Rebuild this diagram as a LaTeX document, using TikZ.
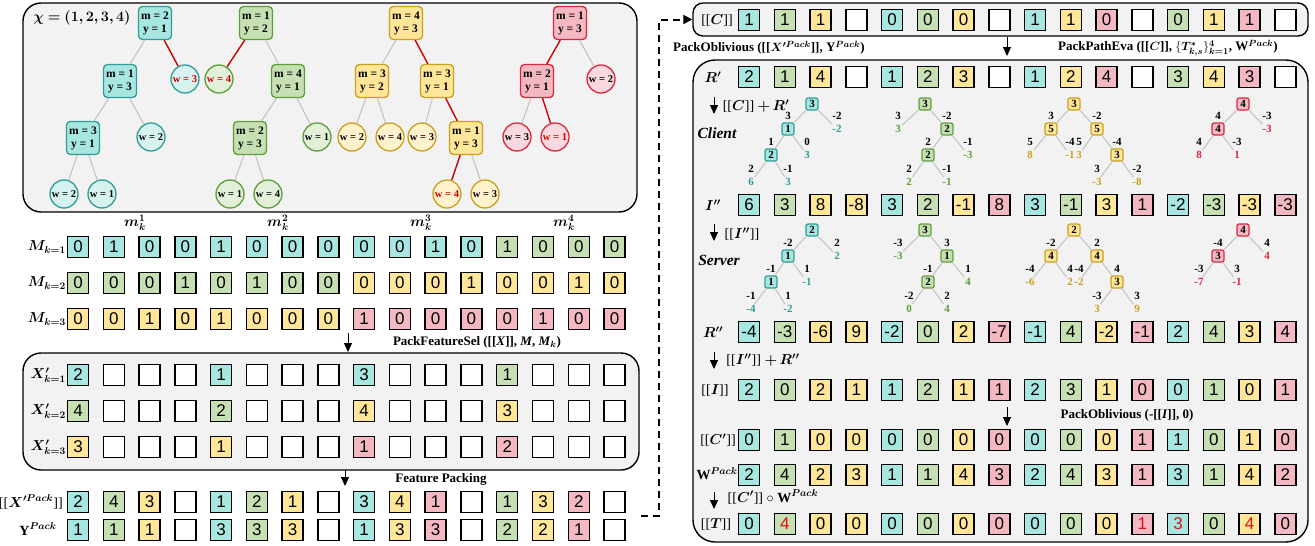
\documentclass[tikz,border=0pt]{standalone}
\usepackage{amsmath,amssymb}
\usepackage{bm}
\usepackage{fontspec}
\setmainfont{Liberation Serif}
\newfontfamily\digitfont{Liberation Sans}
\usetikzlibrary{arrows.meta}

\definecolor{cyF}{HTML}{A8E6E1}
\definecolor{cyD}{HTML}{2E9E96}
\definecolor{cyL}{HTML}{D5F2EF}
\definecolor{grF}{HTML}{C6E0B4}
\definecolor{grD}{HTML}{5F9E3A}
\definecolor{grL}{HTML}{E2F0D9}
\definecolor{yeF}{HTML}{FFE699}
\definecolor{yeD}{HTML}{C9A020}
\definecolor{yeL}{HTML}{FFF2CC}
\definecolor{piF}{HTML}{F4B8C3}
\definecolor{piD}{HTML}{D9273F}
\definecolor{piL}{HTML}{F9D8DE}
\definecolor{wh}{HTML}{FFFFFF}
\definecolor{panelF}{HTML}{F2F2F2}
\definecolor{lineG}{HTML}{C4C4C4}
\definecolor{pathR}{HTML}{CC0000}
\definecolor{redT}{HTML}{E01010}

\newcommand{\redval}[1]{\textcolor{redT}{#1}}

\begin{document}
\begin{tikzpicture}[x=1pt, y=-1pt,
  cell/.style={draw=black, line width=1.5pt, minimum size=21pt, inner sep=0pt,
    font=\digitfont\fontsize{17}{17}\selectfont},
  panel/.style={draw=black, line width=1.4pt, fill=panelF},
  tbox/.style={draw=#1D, fill=#1F, rounded corners=4pt, line width=1.3pt, minimum width=33pt,
    minimum height=33pt, inner sep=0pt, align=center, font=\bfseries\fontsize{11.5}{13}\selectfont},
  tleaf/.style={circle, draw=#1D, fill=#1L, line width=1.3pt, minimum size=28pt, inner sep=0pt,
    font=\bfseries\fontsize{10.5}{11}\selectfont},
  tline/.style={draw=lineG, line width=1.1pt},
  hot/.style={draw=pathR, line width=1.4pt},
  sbox/.style={draw=#1D, fill=#1F, rounded corners=2pt, line width=1.2pt, minimum size=12pt,
    inner sep=0pt, font=\bfseries\fontsize{11}{11}\selectfont},
  slf/.style={text=#1D, inner sep=1pt, font=\bfseries\fontsize{11}{11}\selectfont},
  elab/.style={inner sep=0pt, font=\bfseries\fontsize{11}{11}\selectfont},
  lab/.style={inner sep=0pt, font=\fontsize{14}{14}\selectfont},
  proc/.style={inner sep=0pt, font=\bfseries\fontsize{13}{13}\selectfont},
  role/.style={inner sep=0pt, font=\bfseries\itshape\fontsize{15.5}{16}\selectfont},
  arr/.style={line width=1pt, -{Triangle[length=9pt, width=8pt]}},
  dashln/.style={line width=2pt, dash pattern=on 7pt off 5pt, -{Triangle[length=9pt, width=9pt]}}]
\useasboundingbox (0,0) rectangle (1315,546);

% Panels
\node[panel, rounded corners=18pt, minimum width=614pt, minimum height=209pt] (treebg) at (330,107.5) {};
\node[panel, rounded corners=18pt, minimum width=616pt, minimum height=117pt] (selbg) at (331,411.5) {};
\node[panel, rounded corners=10pt, minimum width=615pt, minimum height=33pt] (cpanel) at (1000.5,19.5) {};
\node[panel, rounded corners=22pt, minimum width=615pt, minimum height=482pt] (evalbg) at (1000.5,301) {};

% Forest
\node[lab] (chi) at (82,18) {$\bm{\chi = (1, 2, 3, 4)}$};

% tree 1
\node[tbox=cy] (t1a) at (155,23) {m = 2\\y = 1};
\node[tbox=cy] (t1b) at (120,81) {m = 1\\y = 3};
\node[tleaf=cy, text=pathR] (t1c) at (185,79) {w = 3};
\node[tbox=cy] (t1d) at (83,138) {m = 3\\y = 1};
\node[tleaf=cy] (t1e) at (151,137) {w = 2};
\node[tleaf=cy] (t1f) at (64,194) {w = 2};
\node[tleaf=cy] (t1g) at (102,194) {w = 1};

% tree 2
\node[tbox=gr] (t2a) at (256,23) {m = 1\\y = 2};
\node[tleaf=gr, text=pathR] (t2b) at (219,79) {w = 4};
\node[tbox=gr] (t2c) at (288,81) {m = 4\\y = 1};
\node[tbox=gr] (t2d) at (250,138) {m = 2\\y = 3};
\node[tleaf=gr] (t2e) at (317,137) {w = 1};
\node[tleaf=gr] (t2f) at (230,194) {w = 1};
\node[tleaf=gr] (t2g) at (268,194) {w = 4};

% tree 3
\node[tbox=ye] (t3a) at (406,23) {m = 4\\y = 3};
\node[tbox=ye] (t3b) at (372,81) {m = 3\\y = 2};
\node[tbox=ye] (t3c) at (437,81) {m = 3\\y = 1};
\node[tleaf=ye] (t3d) at (352,137) {w = 2};
\node[tleaf=ye] (t3e) at (390,137) {w = 4};
\node[tleaf=ye] (t3f) at (422,137) {w = 3};
\node[tbox=ye] (t3g) at (466,138) {m = 1\\y = 3};
\node[tleaf=ye, text=pathR] (t3h) at (447,194) {w = 4};
\node[tleaf=ye] (t3i) at (485,194) {w = 3};

% tree 4
\node[tbox=pi] (t4a) at (570,23) {m = 1\\y = 3};
\node[tbox=pi] (t4b) at (537,81) {m = 2\\y = 1};
\node[tleaf=pi] (t4c) at (601,79) {w = 2};
\node[tleaf=pi] (t4d) at (517,137) {w = 3};
\node[tleaf=pi, text=pathR] (t4e) at (555,137) {w = 1};

\foreach \p/\q in {t1a/t1b, t1b/t1d, t1b/t1e, t1d/t1f, t1d/t1g, t2a/t2c, t2c/t2d, t2c/t2e,
  t2d/t2f, t2d/t2g, t3a/t3b, t3b/t3d, t3b/t3e, t3c/t3f, t3g/t3i, t4a/t4c, t4b/t4d}
  \draw[tline] (\p) -- (\q);
\foreach \p/\q in {t1a/t1c, t2a/t2b, t3a/t3c, t3c/t3g, t3g/t3h, t4a/t4b, t4b/t4e}
  \draw[hot] (\p) -- (\q);

% Masks
\node[lab] (mk1) at (135,223) {$\bm{m_k^1}$};
\node[lab] (mk2) at (278,223) {$\bm{m_k^2}$};
\node[lab] (mk3) at (421,223) {$\bm{m_k^3}$};
\node[lab] (mk4) at (564,223) {$\bm{m_k^4}$};

\node[lab, anchor=east] (lm1) at (66,247) {$\bm{M_{k=1}}$};
\node[lab, anchor=east] (lm2) at (66,283) {$\bm{M_{k=2}}$};
\node[lab, anchor=east] (lm3) at (66,319) {$\bm{M_{k=3}}$};
\foreach \v/\cl [count=\i] in {0/cyF,1/cyF,0/cyF,0/cyF,1/cyF,0/cyF,0/cyF,0/cyF,0/cyF,0/cyF,1/cyF,0/cyF,1/grF,0/grF,0/grF,0/grF}
  \node[cell, fill=\cl] (ma-\i) at ({78+(\i-1)*35.77},247) {\v};
\foreach \v/\cl [count=\i] in {0/grF,0/grF,0/grF,1/grF,0/grF,1/grF,0/grF,0/grF,0/yeF,0/yeF,0/yeF,1/yeF,0/yeF,0/yeF,1/yeF,0/yeF}
  \node[cell, fill=\cl] (mb-\i) at ({78+(\i-1)*35.77},283) {\v};
\foreach \v/\cl [count=\i] in {0/yeF,0/yeF,1/yeF,0/yeF,1/yeF,0/yeF,0/yeF,0/yeF,1/piF,0/piF,0/piF,0/piF,0/piF,1/piF,0/piF,0/piF}
  \node[cell, fill=\cl] (mc-\i) at ({78+(\i-1)*35.77},319) {\v};

\coordinate (selA) at (348,333);
\coordinate (selB) at (348,352);
\draw[arr] (selA) -- (selB);
\node[proc] (selTxt) at (477,342) {PackFeatureSel ([[\textit{X}]], \textit{M}, \textit{M}$_{\bm{k}}$)};

% Selected features
\node[lab, anchor=east] (lx1) at (66,375) {$\bm{X'_{k=1}}$};
\node[lab, anchor=east] (lx2) at (66,411) {$\bm{X'_{k=2}}$};
\node[lab, anchor=east] (lx3) at (66,447) {$\bm{X'_{k=3}}$};
\foreach \v/\cl [count=\i] in {2/cyF,{}/wh,{}/wh,{}/wh,1/cyF,{}/wh,{}/wh,{}/wh,3/cyF,{}/wh,{}/wh,{}/wh,1/grF,{}/wh,{}/wh,{}/wh}
  \node[cell, fill=\cl] (xa-\i) at ({78+(\i-1)*35.77},375) {\v};
\foreach \v/\cl [count=\i] in {4/grF,{}/wh,{}/wh,{}/wh,2/grF,{}/wh,{}/wh,{}/wh,4/yeF,{}/wh,{}/wh,{}/wh,3/yeF,{}/wh,{}/wh,{}/wh}
  \node[cell, fill=\cl] (xb-\i) at ({78+(\i-1)*35.77},411) {\v};
\foreach \v/\cl [count=\i] in {3/yeF,{}/wh,{}/wh,{}/wh,1/yeF,{}/wh,{}/wh,{}/wh,1/piF,{}/wh,{}/wh,{}/wh,2/piF,{}/wh,{}/wh,{}/wh}
  \node[cell, fill=\cl] (xc-\i) at ({78+(\i-1)*35.77},447) {\v};

\coordinate (packA) at (345,470);
\coordinate (packB) at (345,486);
\draw[arr] (packA) -- (packB);
\node[proc] (packTxt) at (441,479) {Feature Packing};

% Packed data
\node[lab, anchor=east] (lxp) at (63,502) {[[$\bm{X'^{Pack}}$]]};
\node[lab] (lyp) at (38,529) {$\mathbf{Y}^{\bm{Pack}}$};
\foreach \v/\cl [count=\i] in {2/cyF,4/grF,3/yeF,{}/wh,1/cyF,2/grF,1/yeF,{}/wh,3/cyF,4/yeF,1/piF,{}/wh,1/grF,3/yeF,2/piF,{}/wh}
  \node[cell, fill=\cl] (xp-\i) at ({78+(\i-1)*35.77},502) {\v};
\foreach \v/\cl [count=\i] in {1/cyF,1/grF,1/yeF,{}/wh,3/cyF,3/grF,3/yeF,{}/wh,1/cyF,3/yeF,3/piF,{}/wh,2/grF,2/yeF,1/piF,{}/wh}
  \node[cell, fill=\cl] (yp-\i) at ({78+(\i-1)*35.77},530) {\v};

\coordinate (dashStart) at (641,516);
\draw[dashln] (dashStart) -- ++(18,0) |- (cpanel.west);

% Comparison result
\node[lab] (lc) at (717,20) {[[$\bm{C}$]]};
\foreach \v/\cl [count=\i] in {1/cyF,1/grF,1/yeF,{}/wh,0/cyF,0/grF,0/yeF,{}/wh,1/cyF,1/yeF,0/piF,{}/wh,0/grF,1/yeF,1/piF,{}/wh}
  \node[cell, fill=\cl] (c-\i) at ({749+(\i-1)*35.75},20) {\v};

\node[proc] (oblTxt) at (769,48) {PackOblivious ([[$\bm{X'^{Pack}}$]], Y$^{\bm{Pack}}$)};
\coordinate (evA) at (1007,37);
\coordinate (evB) at (1007,56);
\draw[arr] (evA) -- (evB);
\node[proc] (evTxt) at (1168,48) {PackPathEva ([[$\bm{C}$]], $\{\bm{T^{*}_{k,s}}\}^{\bm{4}}_{\bm{k=1}}$, W$^{\bm{Pack}}$)};

% Path evaluation
\node[lab] (lrp) at (713,77) {$\bm{R'}$};
\foreach \v/\cl [count=\i] in {2/cyF,1/grF,4/yeF,{}/wh,1/cyF,2/grF,3/yeF,{}/wh,1/cyF,2/yeF,4/piF,{}/wh,3/grF,4/yeF,3/piF,{}/wh}
  \node[cell, fill=\cl] (rp-\i) at ({749+(\i-1)*35.75},77) {\v};

\coordinate (a1A) at (714,97);
\coordinate (a1B) at (714,114);
\draw[arr] (a1A) -- (a1B);
\node[lab] (a1Txt) at (756,106) {[[$\bm{C}$]] $\bm{+\,R'}$};
\node[role] (client) at (717,133) {Client};

% Client trees
\node[sbox=cy] (ca0) at (812,104) {3};
\node[sbox=cy] (ca1) at (788,129) {1};
\node[slf=cy] (ca2) at (837,129) {-2};
\node[sbox=cy] (ca3) at (771,155) {2};
\node[slf=cy] (ca4) at (807,155) {3};
\node[slf=cy] (ca5) at (751,182) {6};
\node[slf=cy] (ca6) at (788,182) {3};

\node[sbox=gr] (cb0) at (925,104) {3};
\node[slf=gr] (cb1) at (898,129) {3};
\node[sbox=gr] (cb2) at (947,129) {2};
\node[sbox=gr] (cb3) at (928,155) {2};
\node[slf=gr] (cb4) at (968,155) {-3};
\node[slf=gr] (cb5) at (909,182) {2};
\node[slf=gr] (cb6) at (947,182) {-1};

\node[sbox=ye] (cc0) at (1074,104) {3};
\node[sbox=ye] (cc1) at (1051,129) {5};
\node[sbox=ye] (cc2) at (1097,129) {5};
\node[slf=ye] (cc3) at (1030,155) {8};
\node[slf=ye] (cc4) at (1070,155) {-1};
\node[slf=ye] (cc5) at (1079,155) {3};
\node[sbox=ye] (cc6) at (1117,155) {3};
\node[slf=ye] (cc7) at (1097,182) {-3};
\node[slf=ye] (cc8) at (1137,182) {-8};

\node[sbox=pi] (cd0) at (1243,104) {4};
\node[sbox=pi] (cd1) at (1218,129) {4};
\node[slf=pi] (cd2) at (1267,129) {-3};
\node[slf=pi] (cd3) at (1199,155) {8};
\node[slf=pi] (cd4) at (1237,155) {1};

\foreach \p/\q/\w in {ca0/ca1/3, ca0/ca2/-2, ca1/ca3/1, ca1/ca4/0, ca3/ca5/2, ca3/ca6/-1,
  cb0/cb1/3, cb0/cb2/-2, cb2/cb3/2, cb2/cb4/-1, cb3/cb5/2, cb3/cb6/-1,
  cc0/cc1/3, cc0/cc2/-2, cc1/cc3/5, cc1/cc4/-4, cc2/cc5/5, cc2/cc6/-4, cc6/cc7/3, cc6/cc8/-2,
  cd0/cd1/4, cd0/cd2/-3, cd1/cd3/4, cd1/cd4/-3}
{
  \draw[tline] (\p) -- (\q);
  \node[elab] (e-\q) at ([yshift=13.5pt]\q) {\w};
}

\node[lab] (lipp) at (713,205) {$\bm{I''}$};
\foreach \v/\cl [count=\i] in {6/cyF,3/grF,8/yeF,-8/yeF,3/cyF,2/grF,-1/yeF,8/piF,3/cyF,-1/grF,3/yeF,1/piF,-2/cyF,-3/grF,-3/yeF,-3/piF}
  \node[cell, fill=\cl] (ipp-\i) at ({749+(\i-1)*35.75},205) {\v};

\coordinate (a2A) at (714,224);
\coordinate (a2B) at (714,241);
\draw[arr] (a2A) -- (a2B);
\node[lab] (a2Txt) at (742,234) {[[$\bm{I''}$]]};
\node[role] (server) at (719,260) {Server};

% Server trees
\node[sbox=cy] (sa0) at (812,230) {2};
\node[sbox=cy] (sa1) at (788,256) {1};
\node[slf=cy] (sa2) at (837,256) {2};
\node[sbox=cy] (sa3) at (771,282) {1};
\node[slf=cy] (sa4) at (807,282) {-1};
\node[slf=cy] (sa5) at (751,309) {-4};
\node[slf=cy] (sa6) at (788,309) {-2};

\node[sbox=gr] (sb0) at (925,230) {3};
\node[slf=gr] (sb1) at (898,256) {-3};
\node[sbox=gr] (sb2) at (947,256) {1};
\node[sbox=gr] (sb3) at (928,282) {2};
\node[slf=gr] (sb4) at (968,282) {4};
\node[slf=gr] (sb5) at (909,309) {0};
\node[slf=gr] (sb6) at (947,309) {4};

\node[sbox=ye] (sc0) at (1074,230) {2};
\node[sbox=ye] (sc1) at (1051,256) {4};
\node[sbox=ye] (sc2) at (1097,256) {4};
\node[slf=ye] (sc3) at (1030,282) {-6};
\node[slf=ye] (sc4) at (1070,282) {2};
\node[slf=ye] (sc5) at (1079,282) {-2};
\node[sbox=ye] (sc6) at (1117,282) {3};
\node[slf=ye] (sc7) at (1097,309) {3};
\node[slf=ye] (sc8) at (1137,309) {9};

\node[sbox=pi] (sd0) at (1243,230) {4};
\node[sbox=pi] (sd1) at (1218,256) {3};
\node[slf=pi] (sd2) at (1267,256) {4};
\node[slf=pi] (sd3) at (1199,282) {-7};
\node[slf=pi] (sd4) at (1237,282) {-1};

\foreach \p/\q/\w in {sa0/sa1/-2, sa0/sa2/2, sa1/sa3/-1, sa1/sa4/1, sa3/sa5/-1, sa3/sa6/1,
  sb0/sb1/-3, sb0/sb2/3, sb2/sb3/-1, sb2/sb4/1, sb3/sb5/-2, sb3/sb6/2,
  sc0/sc1/-2, sc0/sc2/2, sc1/sc3/-4, sc1/sc4/4, sc2/sc5/-4, sc2/sc6/4, sc6/sc7/-3, sc6/sc8/3,
  sd0/sd1/-4, sd0/sd2/4, sd1/sd3/-3, sd1/sd4/3}
{
  \draw[tline] (\p) -- (\q);
  \node[elab] (e-\q) at ([yshift=13.5pt]\q) {\w};
}

\node[lab] (lrpp) at (713,332) {$\bm{R''}$};
\foreach \v/\cl [count=\i] in {-4/cyF,-3/grF,-6/yeF,9/yeF,-2/cyF,0/grF,2/yeF,-7/piF,-1/cyF,4/grF,-2/yeF,-1/piF,2/cyF,4/grF,3/yeF,4/piF}
  \node[cell, fill=\cl] (rpp-\i) at ({749+(\i-1)*35.75},332) {\v};

\coordinate (a3A) at (714,352);
\coordinate (a3B) at (714,369);
\draw[arr] (a3A) -- (a3B);
\node[lab] (a3Txt) at (763,360) {[[$\bm{I''}$]] $\bm{+\,R''}$};

% Indicator vectors
\node[lab] (li) at (715,390) {[[$\bm{I}$]]};
\foreach \v/\cl [count=\i] in {2/cyF,0/grF,2/yeF,1/yeF,1/cyF,2/grF,1/yeF,1/piF,2/cyF,3/grF,1/yeF,0/piF,0/cyF,1/grF,0/yeF,1/piF}
  \node[cell, fill=\cl] (i-\i) at ({749+(\i-1)*35.75},390) {\v};

\coordinate (a4A) at (1007,407);
\coordinate (a4B) at (1007,426);
\draw[arr] (a4A) -- (a4B);
\node[proc] (a4Txt) at (1127,415) {PackOblivious (-[[\textit{I}]], 0)};

\node[lab] (lcp) at (718,440) {[[$\bm{C'}$]]};
\foreach \v/\cl [count=\i] in {0/cyF,1/grF,0/yeF,0/yeF,0/cyF,0/grF,0/yeF,0/piF,0/cyF,0/grF,0/yeF,1/piF,1/cyF,0/grF,1/yeF,0/piF}
  \node[cell, fill=\cl] (cp-\i) at ({749+(\i-1)*35.75},440) {\v};

\node[lab] (lw) at (717,474) {$\mathbf{W}^{\bm{Pack}}$};
\foreach \v/\cl [count=\i] in {2/cyF,4/grF,2/yeF,3/yeF,1/cyF,1/grF,4/yeF,3/piF,2/cyF,4/grF,3/yeF,1/piF,3/cyF,1/grF,4/yeF,2/piF}
  \node[cell, fill=\cl] (w-\i) at ({749+(\i-1)*35.75},475) {\v};

\coordinate (a5A) at (714,492);
\coordinate (a5B) at (714,509);
\draw[arr] (a5A) -- (a5B);
\node[lab] (a5Txt) at (773,497) {[[$\bm{C'}$]] $\circ$ $\mathbf{W}^{\bm{Pack}}$};

\node[lab] (lt) at (716,524) {[[$\bm{T}$]]};
\foreach \v/\cl [count=\i] in {0/cyF,\redval{4}/grF,0/yeF,0/yeF,0/cyF,0/grF,0/yeF,0/piF,0/cyF,0/grF,0/yeF,\redval{1}/piF,\redval{3}/cyF,0/grF,\redval{4}/yeF,0/piF}
  \node[cell, fill=\cl] (t-\i) at ({749+(\i-1)*35.75},524) {\v};

\end{tikzpicture}
\end{document}
